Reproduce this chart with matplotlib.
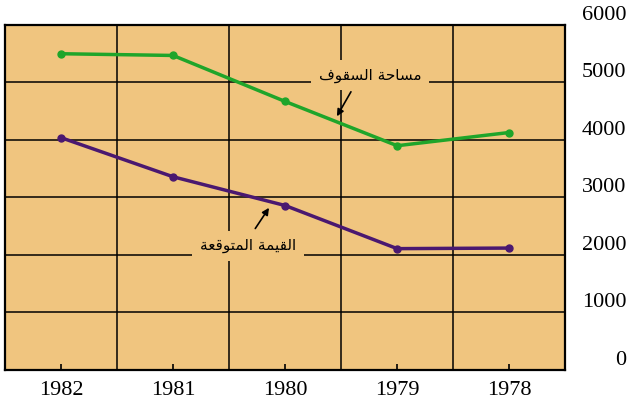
import matplotlib.pyplot as plt

# yearly figures, newest year on the left
years = ['1982', '1981', '1980', '1979', '1978']
roof_area = [5500, 5470, 4670, 3900, 4130]
expected_value = [4040, 3360, 2860, 2110, 2120]
y_ticks = [0, 1000, 2000, 3000, 4000, 5000, 6000]

roof_label = 'مساحة السقوف'
value_label = 'القيمة المتوقعة'

# contextual forms (isolated, final, initial, medial) for the letters used
FORMS = {
    'ا': ('\ufe8d', '\ufe8e', None, None),
    'ة': ('\ufe93', '\ufe94', None, None),
    'و': ('\ufeed', '\ufeee', None, None),
    'ح': ('\ufea1', '\ufea2', '\ufea3', '\ufea4'),
    'س': ('\ufeb1', '\ufeb2', '\ufeb3', '\ufeb4'),
    'ق': ('\ufed5', '\ufed6', '\ufed7', '\ufed8'),
    'ف': ('\ufed1', '\ufed2', '\ufed3', '\ufed4'),
    'ل': ('\ufedd', '\ufede', '\ufedf', '\ufee0'),
    'ي': ('\ufef1', '\ufef2', '\ufef3', '\ufef4'),
    'م': ('\ufee1', '\ufee2', '\ufee3', '\ufee4'),
    'ت': ('\ufe95', '\ufe96', '\ufe97', '\ufe98'),
    'ع': ('\ufec9', '\ufeca', '\ufecb', '\ufecc'),
}


def shape_arabic(text):
    """Join the letters and reverse them for left-to-right drawing."""
    out = []
    for i, ch in enumerate(text):
        if ch not in FORMS:
            out.append(ch)
            continue
        prev = text[i - 1] if i > 0 else ''
        nxt = text[i + 1] if i + 1 < len(text) else ''
        joins_prev = prev in FORMS and FORMS[prev][2] is not None
        joins_next = nxt in FORMS and FORMS[ch][2] is not None
        iso, fin, ini, med = FORMS[ch]
        if joins_prev and joins_next:
            out.append(med)
        elif joins_prev:
            out.append(fin)
        elif joins_next:
            out.append(ini)
        else:
            out.append(iso)
    return ''.join(reversed(out))


bg = '#f0c57f'
green = '#1fa52a'
purple = '#4a1870'

fig = plt.figure(figsize=(6.28, 4.03), dpi=100)
ax = fig.add_axes([0.008, 0.082, 0.892, 0.856])
ax.set_facecolor(bg)

x = list(range(len(years)))
ax.plot(x, roof_area, color=green, lw=2.5, marker='o', ms=5, zorder=3)
ax.plot(x, expected_value, color=purple, lw=2.5, marker='o', ms=5, zorder=3)

ax.set_xlim(-0.5, len(years) - 0.5)
ax.set_ylim(0, 6000)

# grid lines between the year columns and at every thousand
for gx in [0.5, 1.5, 2.5, 3.5]:
    ax.axvline(gx, color='black', lw=1.1, zorder=1)
for gy in y_ticks[1:-1]:
    ax.axhline(gy, color='black', lw=1.1, zorder=1)

for s in ax.spines.values():
    s.set_linewidth(1.6)

ax.set_xticks(x)
ax.set_xticklabels(years, fontfamily='Liberation Serif', fontsize=16)
ax.tick_params(axis='x', direction='in', length=4, width=1.2, pad=8)

ax.yaxis.tick_right()
ax.set_yticks(y_ticks)
ax.set_yticklabels([str(v) for v in y_ticks], fontfamily='Liberation Serif',
                   fontsize=16, ha='right', va='bottom')
ax.tick_params(axis='y', length=0, pad=44)

box = dict(boxstyle='square,pad=0.5', facecolor=bg, edgecolor='none')
ax.text(2.76, 5130, shape_arabic(roof_label), fontfamily='DejaVu Sans',
        fontsize=11, ha='center', va='center', bbox=box, zorder=2)
ax.annotate('', xy=(2.45, 4370), xytext=(2.6, 4880),
            arrowprops=dict(arrowstyle='-|>', color='black', lw=1.2), zorder=4)

ax.text(1.67, 2160, shape_arabic(value_label), fontfamily='DejaVu Sans',
        fontsize=11, ha='center', va='center', bbox=box, zorder=2)
ax.annotate('', xy=(1.87, 2860), xytext=(1.72, 2420),
            arrowprops=dict(arrowstyle='-|>', color='black', lw=1.2), zorder=4)

fig.savefig('out.png', dpi=100)
